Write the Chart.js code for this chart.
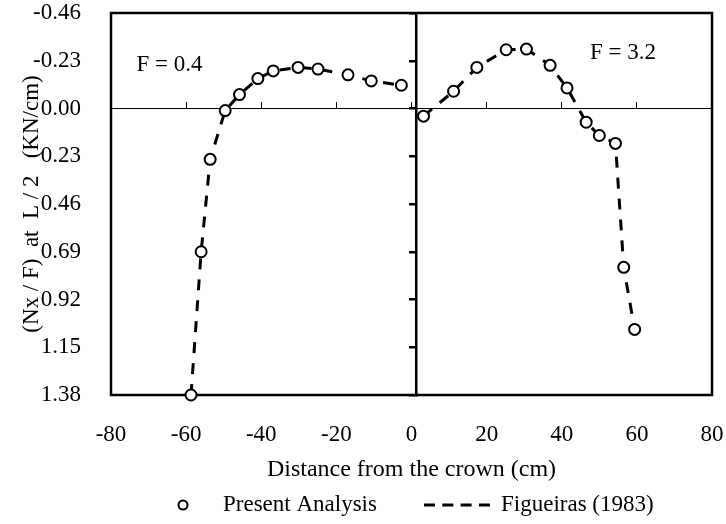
<!DOCTYPE html>
<html>
<head>
<meta charset="utf-8">
<title>Nx / F at L / 2</title>
<script src="https://cdn.jsdelivr.net/npm/chart.js@4.4.1/dist/chart.umd.min.js"></script>
<style>
  html, body { margin: 0; padding: 0; background: #fff; }
  #chart { display: block; }
</style>
</head>
<body>
<canvas id="chart" width="726" height="524"></canvas>
<script>
// distance from the crown (cm) and Nx/F (KN/cm), F = 0.4 side
const leftDist = [-58.7, -56.0, -53.6, -49.6, -45.8, -40.9, -36.8, -30.2, -24.9, -16.9, -10.7, -2.7];
const leftNx   = [1.38, 0.69, 0.245, 0.01, -0.067, -0.144, -0.181, -0.198, -0.19, -0.162, -0.133, -0.112];

// F = 3.2 side
const rightDist = [3.2, 11.2, 17.4, 25.2, 30.6, 36.9, 41.4, 46.5, 50.0, 54.3, 56.5, 59.4];
const rightNx   = [0.037, -0.083, -0.198, -0.283, -0.286, -0.208, -0.099, 0.066, 0.13, 0.168, 0.765, 1.064];

const xTicks = [-80, -60, -40, -20, 0, 20, 40, 60, 80];
const yTicks = [-0.46, -0.23, 0, 0.23, 0.46, 0.69, 0.92, 1.15, 1.38];

const panelLabels = [
  { text: 'F = 0.4', x: -73.2, y: -0.211 },
  { text: 'F = 3.2', x: 47.5, y: -0.267 }
];
const crownAt = 1.2;

const FONT = '"Liberation Serif", "Times New Roman", serif';
Chart.defaults.font.family = FONT;
Chart.defaults.color = '#000';

const toPoints = (xs, ys) => xs.map((x, i) => ({ x: x, y: ys[i] }));

const lineStyle = {
  showLine: true, borderColor: '#000', borderWidth: 3, borderDash: [11, 10],
  pointRadius: 0, pointHoverRadius: 0, tension: 0, order: 2
};
const markStyle = {
  showLine: false, pointRadius: 5.5, pointHoverRadius: 5.5, pointBorderWidth: 2,
  pointBorderColor: '#000', pointBackgroundColor: '#fff', clip: false, order: 1
};

// plot frame, drawn under the series
const frame = {
  id: 'frame',
  beforeDatasetsDraw(chart) {
    const { ctx, chartArea: a } = chart;
    ctx.save();
    ctx.strokeStyle = '#000';
    ctx.lineWidth = 2.5;
    ctx.strokeRect(a.left, a.top, a.right - a.left, a.bottom - a.top);
    ctx.restore();
  }
};

// "F = ..." captions placed in data units
const captions = {
  id: 'captions',
  afterDatasetsDraw(chart) {
    const { ctx, scales } = chart;
    ctx.save();
    ctx.font = '23px ' + FONT;
    ctx.fillStyle = '#000';
    ctx.textAlign = 'left';
    ctx.textBaseline = 'middle';
    panelLabels.forEach(l => {
      ctx.fillText(l.text, scales.x.getPixelForValue(l.x), scales.y.getPixelForValue(l.y));
    });
    ctx.restore();
  }
};

// legend row under the axis title
const legendRow = {
  id: 'legendRow',
  afterDraw(chart) {
    const ctx = chart.ctx;
    const y = 505;
    ctx.save();
    ctx.strokeStyle = '#000';
    ctx.fillStyle = '#000';
    ctx.font = '23px ' + FONT;
    ctx.textAlign = 'left';
    ctx.textBaseline = 'middle';

    ctx.lineWidth = 2;
    ctx.beginPath();
    ctx.arc(183, y, 4.5, 0, Math.PI * 2);
    ctx.stroke();
    ctx.fillText('Present Analysis', 223, y);

    ctx.lineWidth = 3;
    ctx.setLineDash([11, 7.3]);
    ctx.beginPath();
    ctx.moveTo(424, y);
    ctx.lineTo(490, y);
    ctx.stroke();
    ctx.setLineDash([]);
    ctx.fillText('Figueiras (1983)', 501, y);
    ctx.restore();
  }
};

new Chart(document.getElementById('chart'), {
  type: 'scatter',
  data: {
    datasets: [
      Object.assign({ label: 'Figueiras (1983)', data: toPoints(leftDist, leftNx), xAxisID: 'x', yAxisID: 'y' }, lineStyle),
      Object.assign({ label: 'Figueiras (1983)', data: toPoints(rightDist, rightNx), xAxisID: 'x', yAxisID: 'y' }, lineStyle),
      Object.assign({ label: 'Present Analysis', data: toPoints(leftDist, leftNx), xAxisID: 'x', yAxisID: 'y' }, markStyle),
      Object.assign({ label: 'Present Analysis', data: toPoints(rightDist, rightNx), xAxisID: 'x', yAxisID: 'y' }, markStyle)
    ]
  },
  options: {
    responsive: false,
    animation: false,
    layout: { padding: { top: 13, right: 14, bottom: 0, left: 0 } },
    plugins: {
      legend: { display: false },
      tooltip: { enabled: false }
    },
    scales: {
      x: {
        type: 'linear',
        position: 'bottom',
        min: -80, max: 80,
        afterBuildTicks: s => { s.ticks = xTicks.map(v => ({ value: v })); },
        afterFit: s => { s.height = 129; s.paddingLeft = 0; s.paddingRight = 0; },
        ticks: { font: { size: 23 }, padding: 18, maxRotation: 0 },
        grid: { display: false },
        border: { display: false },
        title: {
          display: true,
          text: 'Distance from the crown (cm)',
          font: { size: 24, lineHeight: 1.2 },
          padding: { top: 0, bottom: 40 }
        }
      },
      y: {
        type: 'linear',
        position: 'left',
        reverse: true,
        min: -0.46, max: 1.38,
        afterBuildTicks: s => { s.ticks = yTicks.map(v => ({ value: v })); },
        afterFit: s => { s.width = 111; s.paddingTop = 0; s.paddingBottom = 0; },
        ticks: { font: { size: 23 }, padding: 22, callback: v => v.toFixed(2) },
        grid: { display: false },
        border: { display: false },
        title: {
          display: true,
          text: '(Nx / F)  at  L / 2   (KN/cm)',
          font: { size: 23, lineHeight: 1.2 },
          padding: { top: 18, bottom: 0 }
        }
      },
      // horizontal zero line with upward tick marks
      xZero: {
        type: 'linear',
        axis: 'x',
        position: { y: 0 },
        min: -80, max: 80,
        afterBuildTicks: s => { s.ticks = xTicks.map(v => ({ value: v })); },
        ticks: { display: false },
        grid: { drawOnChartArea: false, drawTicks: true, tickLength: -7, color: '#000', lineWidth: 1 },
        border: { display: true, color: '#000', width: 1 }
      },
      // vertical line at the crown carrying the value ticks
      yMid: {
        type: 'linear',
        axis: 'y',
        position: { x: crownAt },
        reverse: true,
        min: -0.46, max: 1.38,
        afterBuildTicks: s => { s.ticks = yTicks.map(v => ({ value: v })); },
        ticks: { display: false },
        grid: { drawOnChartArea: false, drawTicks: true, tickLength: 6, color: '#000', lineWidth: 2.5 },
        border: { display: true, color: '#000', width: 2.5 }
      }
    }
  },
  plugins: [frame, captions, legendRow]
});
</script>
</body>
</html>
